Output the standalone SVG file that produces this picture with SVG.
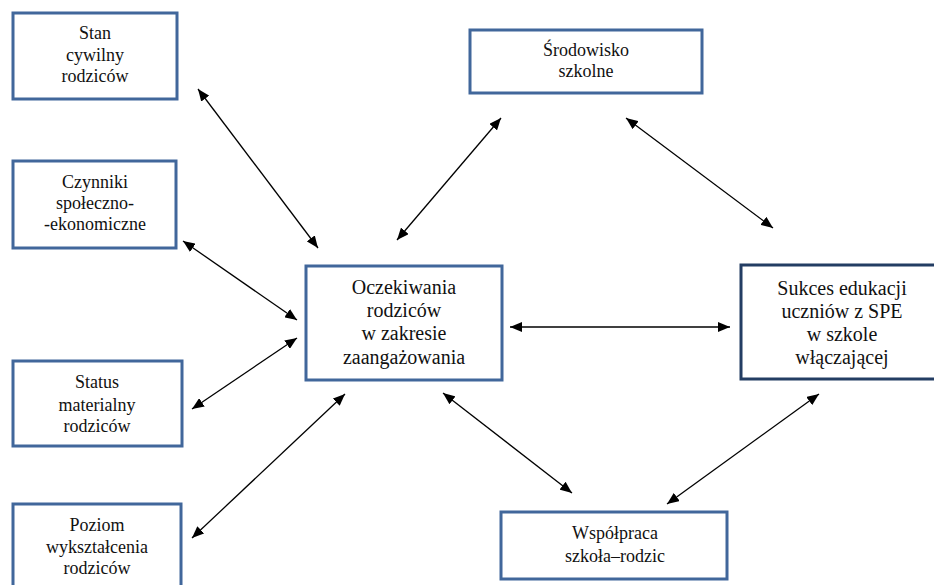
<svg xmlns="http://www.w3.org/2000/svg" width="934" height="585" viewBox="0 0 934 585">
<style>
.box{fill:#fff;stroke:#41679b;stroke-width:3}
.dark{stroke:#233d63}
text{font-family:'Liberation Serif','Times New Roman',serif;fill:#111;text-anchor:middle}
.s{font-size:18px}
.l{font-size:20px}
.c line{stroke:#000;stroke-width:1.3;marker-start:url(#ah);marker-end:url(#ah)}
</style>
<defs>
<marker id="ah" viewBox="0 0 12 10" refX="12" refY="5" markerWidth="12" markerHeight="10" markerUnits="userSpaceOnUse" orient="auto-start-reverse">
<path d="M0,0 L12,5 L0,10 Z" fill="#000"/>
</marker>
</defs>
<rect width="934" height="585" fill="#fff"/>
<g id="stan"><rect class="box" x="13" y="13" width="164" height="86"/>
<text class="s"><tspan x="95" y="39">Stan</tspan><tspan x="95" y="61">cywilny</tspan><tspan x="95" y="82">rodziców</tspan></text></g>
<g id="czynniki"><rect class="box" x="13" y="161" width="163" height="87"/>
<text class="s"><tspan x="95" y="188">Czynniki</tspan><tspan x="95" y="209">społeczno-</tspan><tspan x="95" y="230">-ekonomiczne</tspan></text></g>
<g id="status"><rect class="box" x="13" y="361" width="169" height="85"/>
<text class="s"><tspan x="97" y="388">Status</tspan><tspan x="97" y="411">materialny</tspan><tspan x="97" y="432">rodziców</tspan></text></g>
<g id="poziom"><rect class="box" x="13" y="504" width="168" height="90"/>
<text class="s"><tspan x="97" y="531">Poziom</tspan><tspan x="97" y="553">wykształcenia</tspan><tspan x="97" y="574">rodziców</tspan></text></g>
<g id="oczekiwania"><rect class="box" x="306" y="266" width="196" height="114"/>
<text class="l"><tspan x="404" y="294">Oczekiwania</tspan><tspan x="404" y="317">rodziców</tspan><tspan x="404" y="340">w zakresie</tspan><tspan x="404" y="364">zaangażowania</tspan></text></g>
<g id="sukces"><rect class="box dark" x="741" y="265" width="210" height="114"/>
<text class="l"><tspan x="842" y="295">Sukces edukacji</tspan><tspan x="842" y="318">uczniów z SPE</tspan><tspan x="842" y="341">w szkole</tspan><tspan x="842" y="364">włączającej</tspan></text></g>
<g id="srodowisko"><rect class="box" x="470" y="30" width="232" height="63"/>
<text class="s"><tspan x="586" y="56">Środowisko</tspan><tspan x="586" y="77">szkolne</tspan></text></g>
<g id="wspolpraca"><rect class="box" x="501" y="512" width="226" height="67"/>
<text class="s"><tspan x="615" y="539">Współpraca</tspan><tspan x="615" y="562">szkoła–rodzic</tspan></text></g>
<g id="connectors" class="c">
<line x1="198" y1="89" x2="318" y2="248"/>
<line x1="183" y1="241" x2="297" y2="320"/>
<line x1="192" y1="409" x2="297" y2="338"/>
<line x1="192" y1="538" x2="345" y2="394"/>
<line x1="397" y1="240" x2="501" y2="118"/>
<line x1="626" y1="118" x2="773" y2="228"/>
<line x1="443" y1="393" x2="572" y2="493"/>
<line x1="819" y1="394" x2="667" y2="504"/>
<line x1="510" y1="327" x2="730" y2="327"/>
</g>
</svg>
